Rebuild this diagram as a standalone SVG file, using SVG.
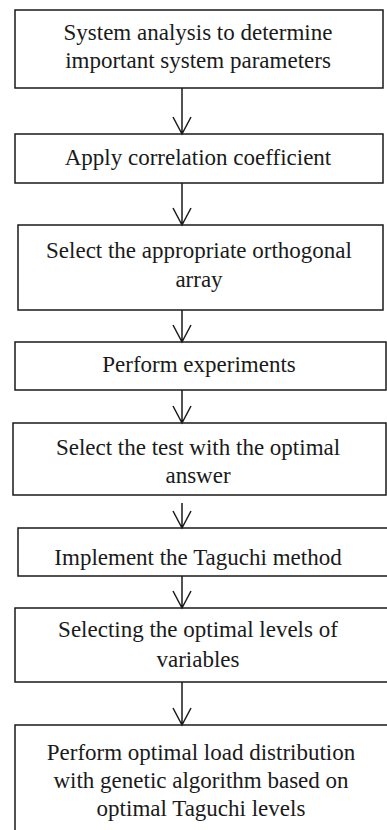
<svg xmlns="http://www.w3.org/2000/svg" width="387" height="830" viewBox="0 0 387 830">
<style>
.box{fill:#fff;stroke:#1a1a1a;stroke-width:1.5}
.t{font-family:"Liberation Serif","Times New Roman",serif;font-size:23px;fill:#1a1a1a;text-anchor:middle}
.c{stroke:#1a1a1a;stroke-width:1.5;fill:none}
</style>
<rect width="387" height="830" fill="#fff"/>
<g id="n1"><rect class="box" x="15" y="10" width="368" height="78"/><text class="t" x="198" y="40">System analysis to determine</text><text class="t" x="198" y="68">important system parameters</text></g>
<g id="n2"><rect class="box" x="15" y="134" width="368" height="49"/><text class="t" x="198" y="165">Apply correlation coefficient</text></g>
<g id="n3"><rect class="box" x="18" y="225" width="365" height="85"/><text class="t" x="199" y="258">Select the appropriate orthogonal</text><text class="t" x="199" y="287">array</text></g>
<g id="n4"><rect class="box" x="15" y="342" width="371" height="48"/><text class="t" x="199" y="372">Perform experiments</text></g>
<g id="n5"><rect class="box" x="13" y="423" width="373" height="72"/><text class="t" x="198" y="455">Select the test with the optimal</text><text class="t" x="198" y="483">answer</text></g>
<g id="n6"><rect class="box" x="18" y="528" width="380" height="48"/><text class="t" x="198" y="565">Implement the Taguchi method</text></g>
<g id="n7"><rect class="box" x="15" y="608" width="383" height="74"/><text class="t" x="198" y="637">Selecting the optimal levels of</text><text class="t" x="198" y="667">variables</text></g>
<g id="n8"><rect class="box" x="15" y="725" width="383" height="120"/><text class="t" x="201" y="760">Perform optimal load distribution</text><text class="t" x="201" y="788">with genetic algorithm based on</text><text class="t" x="201" y="816">optimal Taguchi levels</text></g>
<g id="connectors">
<path class="c" d="M182 88V134M173 117L182 134L191 117"/>
<path class="c" d="M182 183V225M173 208L182 225L191 208"/>
<path class="c" d="M182 310V342M173 325L182 342L191 325"/>
<path class="c" d="M182 390V423M173 406L182 423L191 406"/>
<path class="c" d="M182 503V528M173 511L182 528L191 511"/>
<path class="c" d="M182 576V608M173 591L182 608L191 591"/>
<path class="c" d="M182 682V725M173 708L182 725L191 708"/>
</g>
</svg>
